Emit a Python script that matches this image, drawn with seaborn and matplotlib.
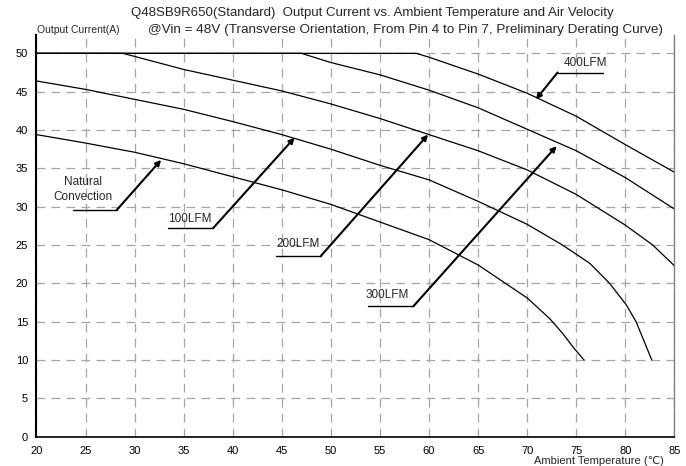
import numpy as np
import pandas as pd
import seaborn as sns
from matplotlib import pyplot as plt
from matplotlib.ticker import MultipleLocator

# derating curves (ambient temp C, output current A)
nc_temp = [20, 25, 30, 35, 40, 45, 50, 55, 60, 65, 70, 72.3, 73.6, 74.8, 75.8]
nc_curr = [39.4, 38.3, 37.1, 35.6, 33.9, 32.2, 30.3, 28.0, 25.7, 22.4, 18.1, 15.4, 13.5, 11.5, 10.0]

lfm100_temp = [20, 25, 30, 35, 40, 45, 50, 55, 60, 65, 70, 73.6, 76.4, 78.4, 80.1, 81.1, 82.0, 82.7]
lfm100_curr = [46.4, 45.3, 44.0, 42.7, 41.1, 39.4, 37.5, 35.4, 33.5, 30.7, 27.7, 25.0, 22.6, 20.0, 17.2, 15.0, 12.2, 10.0]

lfm200_temp = [20, 28.8, 30, 35, 40, 45, 50, 55, 60, 65, 70, 75, 80, 82.8, 85]
lfm200_curr = [50, 50, 49.6, 47.9, 46.5, 45.1, 43.4, 41.5, 39.4, 37.3, 34.8, 31.6, 27.6, 25.0, 22.3]

lfm300_temp = [20, 47, 50, 55, 60, 65, 70, 75, 80, 85]
lfm300_curr = [50, 50, 48.8, 47.2, 45.2, 42.9, 40.1, 37.3, 33.8, 29.7]

lfm400_temp = [20, 58.7, 60, 65, 70, 75, 80, 85]
lfm400_curr = [50, 50, 49.5, 47.3, 44.8, 41.8, 38.1, 34.5]

curves = [
    (nc_temp, nc_curr),
    (lfm100_temp, lfm100_curr),
    (lfm200_temp, lfm200_curr),
    (lfm300_temp, lfm300_curr),
    (lfm400_temp, lfm400_curr),
]

# label text, text pos, leader start, leader end (arrow tail), arrow tip
labels = [
    ('Natural\nConvection', (24.7, 32.2), (23.7, 29.6), (28.2, 29.6), (32.7, 36.1)),
    ('100LFM', (35.6, 28.4), (33.4, 27.2), (38.0, 27.2), (46.3, 39.0)),
    ('200LFM', (46.7, 25.1), (44.4, 23.6), (49.0, 23.6), (59.9, 39.4)),
    ('300LFM', (55.7, 18.5), (53.8, 17.0), (58.4, 17.0), (73.0, 37.9)),
    ('400LFM', (75.9, 48.8), (77.7, 47.5), (73.1, 47.5), (70.9, 44.0)),
]

sns.set_style('white')
plt.rcParams['font.family'] = ['Liberation Sans', 'DejaVu Sans']

fig = plt.figure(figsize=(6.86, 4.66), dpi=100)
ax = fig.add_axes([0.0532, 0.0629, 0.9298, 0.8621])

for temp, curr in curves:
    sns.lineplot(x=temp, y=curr, ax=ax, color='black', lw=0.9, sort=False)

for text, tpos, l0, l1, tip in labels:
    ax.plot([l0[0], l1[0]], [l0[1], l1[1]], color='black', lw=1.0)
    ax.annotate('', xy=tip, xytext=l1,
                arrowprops=dict(arrowstyle='-|>', color='black', lw=1.5,
                                mutation_scale=8, shrinkA=0, shrinkB=0))
    ax.text(tpos[0], tpos[1], text, ha='center', va='center', fontsize=8.5,
            linespacing=1.35)

ax.set_xlim(20, 85)
ax.set_ylim(0, 52.4)
ax.xaxis.set_major_locator(MultipleLocator(5))
ax.xaxis.set_minor_locator(MultipleLocator(1))
ax.yaxis.set_major_locator(MultipleLocator(5))
ax.yaxis.set_minor_locator(MultipleLocator(1))
ax.tick_params(which='major', direction='in', length=4, width=1, labelsize=8,
               pad=7, colors='black')
ax.tick_params(which='minor', direction='in', length=2.5, width=0.8)
ax.tick_params(axis='y', pad=6)

ax.grid(True, which='major', color='#a6a6a6', linestyle=(0, (7, 5)), lw=0.9)
ax.spines['top'].set_visible(False)
ax.spines['left'].set_color('black')
ax.spines['left'].set_linewidth(1.5)
ax.spines['bottom'].set_color('black')
ax.spines['bottom'].set_linewidth(1.2)
ax.spines['right'].set_color('#808080')
ax.spines['right'].set_linewidth(1.0)
ax.set_xlabel('')
ax.set_ylabel('')

fig.text(372 / 686, 1 - 13 / 466,
         'Q48SB9R650(Standard)  Output Current vs. Ambient Temperature and Air Velocity',
         ha='center', va='center', fontsize=9.5)
fig.text(405 / 686, 1 - 30 / 466,
         '@Vin = 48V (Transverse Orientation, From Pin 4 to Pin 7, Preliminary Derating Curve)',
         ha='center', va='center', fontsize=9.7)
fig.text(37 / 686, 1 - 30 / 466, 'Output Current(A)', ha='left', va='center',
         fontsize=7.5)
fig.text(599 / 686, 1 - 461 / 466, 'Ambient Temperature (℃)', ha='center',
         va='center', fontsize=8)

plt.savefig('out.png', dpi=100)
